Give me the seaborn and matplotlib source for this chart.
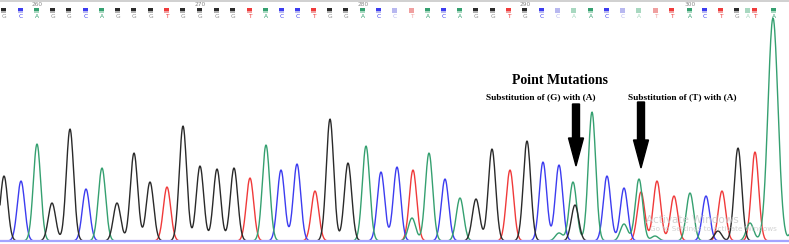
import numpy as np
import pandas as pd
import matplotlib
matplotlib.use("Agg")
import matplotlib.pyplot as plt
import seaborn as sns

# ---------------- data ----------------
# base calls (scan position, base, low-quality flag)
call_pos = [4, 21, 37, 53, 69, 86, 102, 118, 134, 151, 167, 183, 200, 217, 233, 250, 266,
            282, 298, 314, 330, 346, 363, 379, 395, 412, 428, 444, 460, 476, 493, 509,
            525, 542, 558, 574, 591, 607, 623, 639, 656, 672, 690, 705, 721, 737, 748, 755, 774]
call_base = list("GCAGGCAGGGTGGGGTA" "CCTGGACCTACAGGT" "G" "CCAACCATTACTGATA")
call_pale = [0] * 24 + [1, 1] + [0] * 8 + [1, 1, 0, 0, 1, 1, 1, 0, 0, 0, 0, 0, 1, 0, 0]
tick_labels = ["260", "270", "280", "290", "300"]
tick_pos = [37, 200, 363, 525, 690]

# trace peaks per channel: (scan position, peak height)
peaks_G = [(4, 65), (52, 38), (70, 112), (117, 38), (134, 88), (150, 59), (183, 115),
           (200, 75), (217, 72), (234, 73), (330, 122), (348, 78), (476, 42), (492, 92),
           (527, 100), (575, 36), (718, 10), (738, 93)]
peaks_C = [(21, 60), (86, 52), (281, 71), (297, 77), (381, 69), (397, 74), (445, 62),
           (543, 79), (559, 76), (607, 65), (624, 53), (706, 45)]
peaks_A = [(37, 97), (102, 73), (266, 96), (366, 95), (412, 23), (429, 88), (460, 43),
           (559, 8), (573, 59), (592, 129), (624, 17), (639, 62), (655, 5), (690, 48),
           (750, 18), (773, 223), (796, 30)]
peaks_T = [(167, 54), (250, 63), (315, 50), (413, 71), (510, 71), (641, 49), (657, 60),
           (674, 45), (722, 50), (755, 89)]

colors = {"G": "#2a2a2a", "C": "#3c3cf0", "A": "#35a070", "T": "#f03a3a"}
pale_colors = {"G": "#b0b0b0", "C": "#b8b8f0", "A": "#a8d8c0", "T": "#f0a0a0"}

# ---------------- build traces ----------------
xs = np.linspace(0, 789, 1600)
sigma = 3.7
rows = []
for ch, pk in [("G", peaks_G), ("C", peaks_C), ("A", peaks_A), ("T", peaks_T)]:
    sig = np.zeros_like(xs)
    for p, h in pk:
        s = sigma * (1.35 if h > 200 else 1.0)
        sig += h * np.exp(-(xs - p) ** 2 / (2 * s ** 2))
    rows.append(pd.DataFrame({"scan": xs, "signal": sig, "channel": ch}))
df = pd.concat(rows, ignore_index=True)

# ---------------- plot ----------------
fig = plt.figure(figsize=(7.89, 2.44), dpi=100)
ax = fig.add_axes([0, 0, 1, 1])
ax.set_xlim(0, 789)
ax.set_ylim(-3, 241)
ax.axis("off")

sns.lineplot(data=df, x="scan", y="signal", hue="channel",
             hue_order=["T", "C", "A", "G"], palette=colors,
             linewidth=1.0, legend=False, ax=ax, zorder=2)

ax.axhline(0.9, color="#f6b8b8", lw=0.8, zorder=3)
ax.axhline(0, color="#a4a4ff", lw=1.6, zorder=3)

# header
ax.axhline(240, color="#c8c8c8", lw=1.2)
for lbl, p in zip(tick_labels, tick_pos):
    ax.text(p, 236.5, lbl, ha="center", va="center", fontsize=4.2, color="#888888")
for p, b, pale in zip(call_pos, call_base, call_pale):
    c = pale_colors[b] if pale else colors[b]
    ax.bar(p, 3, bottom=230, width=5, color=c, linewidth=0)
    ax.bar(p, 1.5, bottom=228.5, width=5, color=pale_colors[b], linewidth=0)
    ax.text(p, 225, b, ha="center", va="center", fontsize=4.2,
            color="#909090" if b == "G" else pale_colors[b] if pale else colors[b])

# annotations
ax.text(560, 241 - 81, "Point Mutations", ha="center", va="center",
        fontsize=10, fontweight="bold", family="Liberation Serif")
ax.text(541, 241 - 97, "Substitution of (G) with (A)", ha="center", va="center",
        fontsize=6.7, fontweight="bold", family="Liberation Serif")
ax.text(682, 241 - 97, "Substitution of (T) with (A)", ha="center", va="center",
        fontsize=6.7, fontweight="bold", family="Liberation Serif")
for x0, ytop, ytip in [(576, 104, 166), (641, 102, 168)]:
    ax.arrow(x0, 241 - ytop, 0, -(ytip - ytop), width=7, head_width=15,
             head_length=28, length_includes_head=True, color="black", zorder=5)

# watermark
ax.text(646, 241 - 220, "Activate Windows", ha="left", va="center",
        fontsize=7.5, color="#c8c8c8", alpha=0.8, zorder=6)
ax.text(650, 241 - 229.5, "Go to Settings to activate Windows", ha="left", va="center",
        fontsize=5.2, color="#c8c8c8", alpha=0.8, zorder=6)

fig.savefig("out.png", dpi=100)
